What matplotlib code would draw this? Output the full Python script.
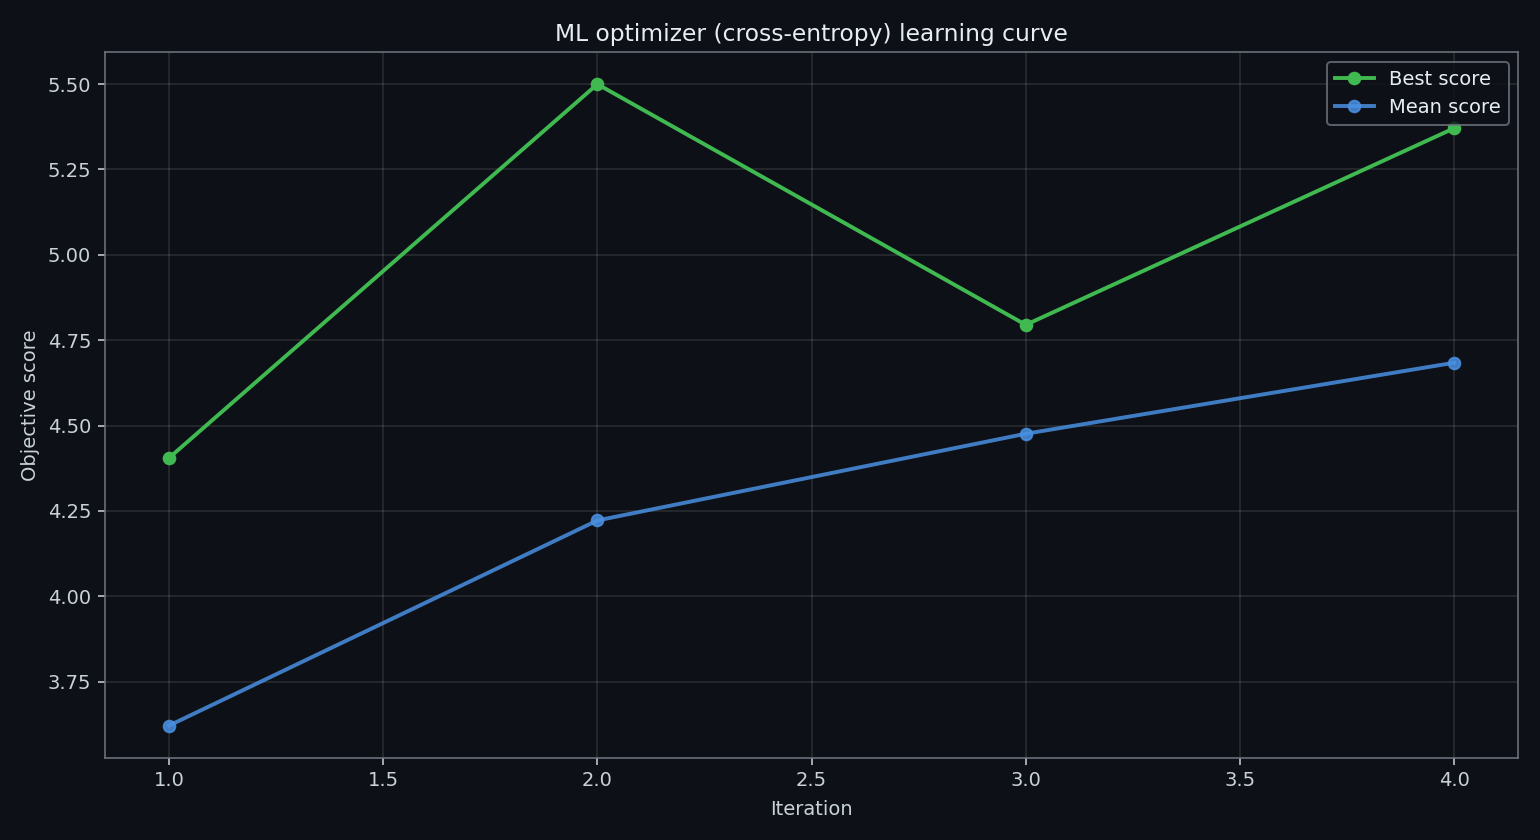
import matplotlib
matplotlib.use("Agg")
import matplotlib.pyplot as plt

iterations = [1, 2, 3, 4]
best_score = [4.405, 5.50, 4.795, 5.371]
mean_score = [3.621, 4.222, 4.476, 4.684]

bg = "#0d1117"
text_color = "#c9d1d9"

plt.rcParams["font.family"] = ["DejaVu Sans"]
fig, ax = plt.subplots(figsize=(11, 6), dpi=140)
fig.patch.set_facecolor(bg)
ax.set_facecolor(bg)

ax.plot(iterations, best_score, marker="o", color="#3fb950", linewidth=2,
        markersize=6, label="Best score")
ax.plot(iterations, mean_score, marker="o", color="#4a90e2", linewidth=2,
        markersize=6, alpha=0.85, label="Mean score")

ax.set_title("ML optimizer (cross-entropy) learning curve", color="#e6edf3",
             fontsize=12, pad=5.5)
ax.set_xlabel("Iteration", color=text_color, fontsize=10, labelpad=5)
ax.set_ylabel("Objective score", color=text_color, fontsize=10)
ax.tick_params(colors=text_color, labelsize=10)
ax.yaxis.set_major_formatter(matplotlib.ticker.FormatStrFormatter("%.2f"))
ax.grid(True, color="#ffffff", alpha=0.12, linewidth=0.8)
for spine in ax.spines.values():
    spine.set_color("#6e7681")

leg = ax.legend(loc="upper right", fontsize=10, facecolor=bg, edgecolor="#6e7681",
                labelcolor="#e6edf3")

fig.subplots_adjust(left=0.068, right=0.986, top=0.938, bottom=0.098)
fig.savefig("out.png", facecolor=bg)
